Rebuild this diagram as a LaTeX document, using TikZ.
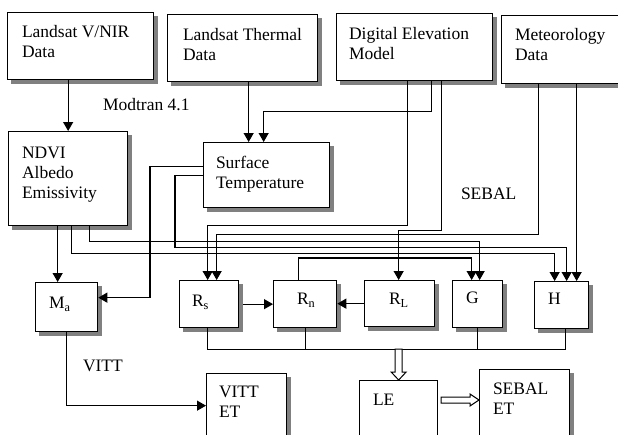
\documentclass[tikz,border=0pt]{standalone}
\usepackage{fontspec}
\setmainfont{Liberation Serif}
\usetikzlibrary{positioning,arrows.meta,calc}
\definecolor{shadowgrey}{RGB}{128,128,128}
\begin{document}
\begin{tikzpicture}[x=1pt, y=-1pt,
    box/.style={draw, line width=1.3pt, fill=white, inner sep=0pt, anchor=north west},
    txt/.style={inner sep=0pt, outer sep=0pt, align=left, font=\fontsize{17.5}{20}\selectfont},
    conn/.style={line width=1.2pt},
    arr/.style={conn, -{Triangle[length=9pt, width=10pt]}},
    fat/.style={draw, line width=1pt, fill=white, line join=miter}]
    \useasboundingbox (0,0) rectangle (618,434);

    % Input boxes
    \node[box, minimum width=146pt, minimum height=67pt] (vnir) at (7,12) {};
    \node[box, minimum width=150pt, minimum height=67pt] (thermal) at (167,14) {};
    \node[box, minimum width=156pt, minimum height=67pt] (dem) at (336,13) {};
    \node[box, minimum width=122pt, minimum height=68pt] (meteo) at (501,15) {};

    % Intermediate products
    \node[box, minimum width=119pt, minimum height=94pt] (ndvi) at (8,131) {};
    \node[box, minimum width=126pt, minimum height=65pt] (surft) at (203,142) {};
    \node[box, minimum width=62pt, minimum height=49pt] (ma) at (35,282) {};
    \node[box, minimum width=59pt, minimum height=47pt] (rs) at (179,280) {};
    \node[box, minimum width=63pt, minimum height=47pt] (rn) at (273,280) {};
    \node[box, minimum width=70pt, minimum height=46pt] (rl) at (364,280) {};
    \node[box, minimum width=50pt, minimum height=47pt] (g) at (452,280) {};
    \node[box, minimum width=54pt, minimum height=47pt] (h) at (534,281) {};

    % Outputs
    \node[box, minimum width=80pt, minimum height=64pt] (vittet) at (206,373) {};
    \node[box, minimum width=78pt, minimum height=70pt] (le) at (359,380) {};
    \node[box, minimum width=90pt, minimum height=80pt] (sebalet) at (479,369) {};

    % Shadows along the right and bottom sides
    \foreach \bx in {vnir,thermal,dem,meteo,ndvi,surft,ma,rs,rn,rl,g,h,vittet,sebalet} {
        \fill[shadowgrey] ([yshift=-4pt]\bx.north east) rectangle ([shift={(4pt,-4pt)}]\bx.south east);
        \fill[shadowgrey] ([xshift=4pt]\bx.south west) rectangle ([shift={(4pt,-4pt)}]\bx.south east);
    }

    % Box texts
    \node[txt, below right=13pt and 15pt of vnir.north west] (vnir-t) {Landsat V/NIR\\Data};
    \node[txt, below right=14pt and 16pt of thermal.north west] (thermal-t) {Landsat Thermal\\Data};
    \node[txt, below right=14pt and 13pt of dem.north west] (dem-t) {Digital Elevation\\Model};
    \node[txt, below right=13pt and 14pt of meteo.north west] (meteo-t) {Meteorology\\Data};
    \node[txt, below right=16pt and 14pt of ndvi.north west] (ndvi-t) {NDVI\\Albedo\\Emissivity};
    \node[txt, below right=14pt and 13pt of surft.north west] (surft-t) {Surface\\Temperature};
    \node[txt, below right=15pt and 14pt of ma.north west] (ma-t) {M\textsubscript{a}};
    \node[txt, below right=15pt and 13pt of rs.north west] (rs-t) {R\textsubscript{s}};
    \node[txt, below right=13pt and 24pt of rn.north west] (rn-t) {R\textsubscript{n}};
    \node[txt, below right=13pt and 25pt of rl.north west] (rl-t) {R\textsubscript{L}};
    \node[txt, below right=12pt and 14pt of g.north west] (g-t) {G};
    \node[txt, below right=12pt and 14pt of h.north west] (h-t) {H};
    \node[txt, below right=13pt and 13pt of vittet.north west] (vittet-t) {VITT\\ET};
    \node[txt, below right=14pt and 14pt of le.north west] (le-t) {LE};
    \node[txt, below right=14pt and 14pt of sebalet.north west] (sebalet-t) {SEBAL\\ET};

    % Free labels
    \node[txt, anchor=north west] (modtran) at (103,98) {Modtran 4.1};
    \node[txt, anchor=north west] (sebal) at (461,188) {SEBAL};
    \node[txt, anchor=north west] (vitt) at (83,360) {VITT};

    % Connectors from the inputs
    \draw[arr] (vnir.south -| ndvi.north) -- (ndvi.north);
    \draw[arr] ([xshift=6pt]thermal.south) -- ([xshift=6pt]thermal.south |- surft.north);
    \draw[arr] ([xshift=17pt]dem.south) -- ++(0,30) -| ([xshift=-3pt]surft.north);
    \draw[arr] ([xshift=-7pt]dem.south) -- ++(0,144) -| ([xshift=-1.5pt]rs.north);
    \draw[arr] ([xshift=27pt]dem.south) -- ++(0,149) -| ([xshift=-1pt]rl.north);
    \draw[arr] ([xshift=-24pt]meteo.south) -- ++(0,150) -| ([xshift=7.5pt]rs.north);
    \draw[arr] ([xshift=14pt]meteo.south) -- ([xshift=14pt]meteo.south |- h.north);

    % Connectors from NDVI and surface temperature
    \draw[arr] ([xshift=-10.5pt]ndvi.south) -- ([xshift=-10.5pt]ndvi.south |- ma.north);
    \draw[arr] ([xshift=21.5pt]ndvi.south) -- ++(0,15) -| ([xshift=2pt]g.north);
    \draw[arr] ([xshift=3.5pt]ndvi.south) -- ++(0,27) -| ([xshift=-7pt]h.north);
    \draw[arr] ([yshift=8.5pt]surft.west) -- ++(-53,0) |- ([yshift=9.5pt]ma.east);
    \draw[arr] ([yshift=-0.5pt]surft.west) -- ++(-28,0) -- ++(0,72) -| ([xshift=5pt]h.north);

    % Energy balance terms
    \draw[arr] ([xshift=-6.5pt]rn.north) -- ++(0,-22) -| ([xshift=-6pt]g.north);
    \draw[arr] ([xshift=4pt]rs.east) -- (rn.west);
    \draw[arr] (rl.west) -- (rl.west -| rn.east);
    \draw[conn] ([xshift=-1.5pt]rs.south) -- ++(0,21) coordinate (bus) -| ([xshift=4pt]h.south);
    \draw[conn] (rn.south) -- (rn.south |- bus);
    \draw[conn] (g.south) -- (g.south |- bus);

    % Outputs
    \draw[arr] (ma.south) |- (vittet.west);
    \draw[fat] (le.north) -- ++(-7.5,-8) -- ++(4,0) -- ++(0,-23) -- ++(7,0) -- ++(0,23) -- ++(4,0) -- cycle;
    \draw[fat] ($(sebalet.north west)+(0,31)$) -- ++(-9,-6) -- ++(0,3) -- ++(-29,0) -- ++(0,6) -- ++(29,0) -- ++(0,3) -- cycle;
\end{tikzpicture}
\end{document}
